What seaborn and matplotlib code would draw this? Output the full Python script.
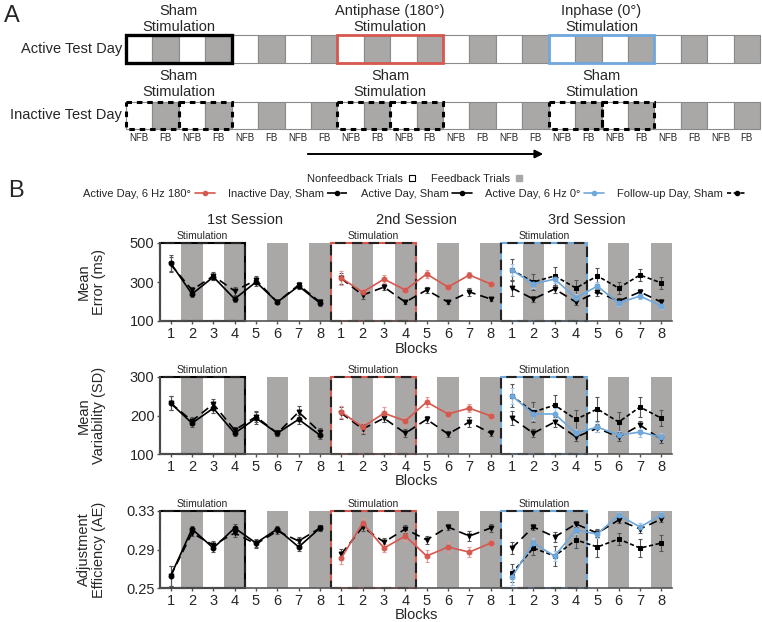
import seaborn as sns
import matplotlib.pyplot as plt
from matplotlib.patches import Rectangle
from matplotlib.lines import Line2D
from matplotlib.transforms import blended_transform_factory

# ---- data ----
blocks = [1, 2, 3, 4, 5, 6, 7, 8]
sessions = ["1st Session", "2nd Session", "3rd Session"]
trial_types = ["NFB", "FB"] * 12
stim_cells = [0, 8, 16]  # first cell of each stimulated group (panel A)
day_rows = ["Active Test Day", "Inactive Test Day"]
active_titles = ["Sham\nStimulation", "Antiphase (180°)\nStimulation", "Inphase (0°)\nStimulation"]
inactive_titles = ["Sham\nStimulation"] * 3

# mean error (ms)
err_inactive = [390, 259, 331, 254, 310, 197, 285, 197,
                318, 233, 274, 197, 259, 197, 249, 213,
                269, 213, 264, 197, 249, 202, 249, 197]
err_inactive_se = [40, 15, 20, 20, 20, 10, 15, 15,
                   30, 20, 15, 10, 15, 10, 20, 10,
                   40, 15, 20, 15, 20, 15, 15, 15]
err_active_sham = [397, 238, 326, 213, 300, 197, 279, 192]
err_active_sham_se = [40, 15, 15, 15, 20, 10, 15, 15]
err_180 = [320, 248, 315, 259, 341, 274, 336, 290]
err_180_se = [35, 15, 20, 15, 20, 15, 15, 15]
err_0 = [361, 290, 315, 218, 279, 192, 228, 177]
err_0_se = [30, 20, 20, 20, 20, 15, 15, 15]
err_followup = [361, 300, 331, 269, 331, 269, 336, 295]
err_followup_se = [55, 40, 45, 40, 40, 30, 30, 30]

# mean variability (SD)
var_inactive = [232, 186, 230, 162, 197, 154, 209, 157,
                206, 165, 193, 154, 190, 152, 183, 154,
                193, 154, 183, 144, 167, 144, 175, 138]
var_inactive_se = [18, 10, 12, 8, 15, 8, 15, 10,
                   15, 12, 10, 10, 10, 8, 12, 8,
                   18, 10, 12, 10, 10, 10, 12, 10]
var_active_sham = [232, 180, 219, 154, 193, 154, 190, 149]
var_active_sham_se = [18, 10, 12, 8, 15, 8, 12, 10]
var_180 = [209, 170, 206, 186, 235, 204, 219, 199]
var_180_se = [15, 12, 15, 10, 12, 10, 10, 8]
var_0 = [251, 204, 204, 154, 170, 149, 157, 144]
var_0_se = [20, 15, 15, 12, 12, 10, 12, 10]
var_followup = [251, 209, 227, 190, 217, 183, 222, 193]
var_followup_se = [30, 25, 25, 25, 30, 25, 25, 20]

# adjustment efficiency (AE)
ae_inactive = [0.2625, 0.3071, 0.2946, 0.3071, 0.2957, 0.3092, 0.2988, 0.3123,
               0.2853, 0.3134, 0.2977, 0.3113, 0.3000, 0.3134, 0.3040, 0.3123,
               0.2915, 0.3134, 0.3030, 0.3165, 0.3070, 0.3206, 0.3113, 0.3216]
ae_inactive_se = [0.010, 0.003, 0.004, 0.004, 0.004, 0.003, 0.004, 0.003,
                  0.005, 0.004, 0.004, 0.004, 0.004, 0.003, 0.005, 0.004,
                  0.006, 0.003, 0.005, 0.003, 0.004, 0.003, 0.004, 0.003]
ae_active_sham = [0.2625, 0.3113, 0.2915, 0.3123, 0.2967, 0.3113, 0.2926, 0.3123]
ae_active_sham_se = [0.010, 0.003, 0.004, 0.004, 0.004, 0.003, 0.004, 0.003]
ae_180 = [0.2811, 0.3175, 0.2915, 0.3040, 0.2832, 0.2926, 0.2873, 0.2967]
ae_180_se = [0.006, 0.005, 0.004, 0.005, 0.006, 0.005, 0.005, 0.003]
ae_0 = [0.2614, 0.2967, 0.2832, 0.3102, 0.3060, 0.3258, 0.3134, 0.3258]
ae_0_se = [0.008, 0.005, 0.005, 0.004, 0.004, 0.003, 0.004, 0.003]
ae_followup = [0.2656, 0.2915, 0.2832, 0.3000, 0.2926, 0.3009, 0.2915, 0.2967]
ae_followup_se = [0.009, 0.007, 0.010, 0.008, 0.010, 0.006, 0.009, 0.008]

# ---- style ----
RED = "#d6584e"
BLUE = "#6ea8dc"
GRAY = "#aaa7a7"
DASH = (0, (5, 3))
FINE = (0, (2.5, 1.5))

sns.set_theme(style="white")
plt.rcParams["font.family"] = ["Liberation Sans", "DejaVu Sans"]

fig = plt.figure(figsize=(7.62, 6.22), dpi=100)

# ---- panel A (pixel coordinates overlay) ----
over = fig.add_axes([0, 0, 1, 1], zorder=-1)
over.set_xlim(0, 762)
over.set_ylim(622, 0)
over.axis("off")

x0, cw = 126, (760 - 126) / 24
rows_y = [(35, 63), (102, 129)]
for (ytop, ybot), name in zip(rows_y, day_rows):
    for i, kind in enumerate(trial_types):
        over.add_patch(Rectangle((x0 + i * cw, ytop), cw, ybot - ytop,
                                 fc=GRAY if kind == "FB" else "white",
                                 ec="#8a8a8a", lw=0.8))
    over.text(x0 - 4, (ytop + ybot) / 2, name, ha="right", va="center", fontsize=10.5)

for c, col in zip(stim_cells, ["black", RED, BLUE]):
    ytop, ybot = rows_y[0]
    over.add_patch(Rectangle((x0 + c * cw, ytop), 4 * cw, ybot - ytop,
                             fill=False, ec=col, lw=2.4 if col == "black" else 2.0))
    ytop, ybot = rows_y[1]
    for k in (0, 2):
        over.add_patch(Rectangle((x0 + (c + k) * cw, ytop), 2 * cw, ybot - ytop,
                                 fill=False, ec="black", lw=2.2, ls=(0, (1.8, 1.6))))

for c, t1, t2 in zip(stim_cells, active_titles, inactive_titles):
    xc = x0 + (c + 2) * cw
    over.text(xc, 19, t1, ha="center", va="center", fontsize=10.5, linespacing=1.15)
    over.text(xc, 84, t2, ha="center", va="center", fontsize=10.5, linespacing=1.15)

for i, kind in enumerate(trial_types):
    over.text(x0 + (i + 0.5) * cw, 138, kind, ha="center", va="center", fontsize=7)

over.annotate("", xy=(546, 154), xytext=(305, 154),
              arrowprops=dict(arrowstyle="-|>", color="black", lw=1.4, mutation_scale=12))

over.text(4, 16, "A", fontsize=17, va="center", ha="left")
over.text(8, 191, "B", fontsize=17, va="center", ha="left")

# ---- legends ----
trial_handles = [
    Line2D([], [], ls="none", marker="s", ms=5, mfc="white", mec="black", mew=0.8),
    Line2D([], [], ls="none", marker="s", ms=5, mfc=GRAY, mec=GRAY),
]
fig.legend(trial_handles, ["Nonfeedback Trials", "Feedback Trials"],
           loc="center", bbox_to_anchor=(416 / 762, 1 - 179 / 622), ncol=2,
           frameon=False, fontsize=8, markerfirst=False, handlelength=1.0,
           handletextpad=0.3, columnspacing=1.2)

series_handles = [
    Line2D([], [], color=RED, lw=1.2, marker="o", ms=3),
    Line2D([], [], color="black", lw=1.2, ls=DASH, marker="o", ms=3),
    Line2D([], [], color="black", lw=1.2, marker="o", ms=3),
    Line2D([], [], color=BLUE, lw=1.2, marker="o", ms=3),
    Line2D([], [], color="black", lw=1.2, ls=FINE, marker="o", ms=3),
]
series_labels = ["Active Day, 6 Hz 180°", "Inactive Day, Sham", "Active Day, Sham",
                 "Active Day, 6 Hz 0°", "Follow-up Day, Sham"]
fig.legend(series_handles, series_labels, loc="center",
           bbox_to_anchor=(415 / 762, 1 - 194 / 622), ncol=5, frameon=False,
           fontsize=8, markerfirst=False, handlelength=1.8, handletextpad=0.3,
           columnspacing=1.2)


# ---- panel B ----
def draw_series(ax, values, se, session, color, ls, marker, ecolor):
    xs = [session * 8 + i for i in range(len(values))]
    ax.errorbar(xs, values, yerr=se, fmt="none", ecolor=ecolor, elinewidth=0.8,
                capsize=1.5, capthick=0.8, zorder=3)
    sns.lineplot(x=xs, y=values, ax=ax, color=color, linestyle=ls, lw=1.2,
                 marker=marker, markersize=3.5, markeredgecolor=color,
                 errorbar=None, zorder=4)


panels = [
    ("Mean\nError (ms)", (100, 500), [100, 300, 500], ["100", "300", "500"],
     (err_inactive, err_inactive_se), (err_active_sham, err_active_sham_se),
     (err_180, err_180_se), (err_0, err_0_se), (err_followup, err_followup_se),
     321, 78),
    ("Mean\nVariability (SD)", (100, 300), [100, 200, 300], ["100", "200", "300"],
     (var_inactive, var_inactive_se), (var_active_sham, var_active_sham_se),
     (var_180, var_180_se), (var_0, var_0_se), (var_followup, var_followup_se),
     454, 77),
    ("Adjustment\nEfficiency (AE)", (0.25, 0.33), [0.25, 0.29, 0.33], ["0.25", "0.29", "0.33"],
     (ae_inactive, ae_inactive_se), (ae_active_sham, ae_active_sham_se),
     (ae_180, ae_180_se), (ae_0, ae_0_se), (ae_followup, ae_followup_se),
     588, 77),
]

for p, (ylab, ylim, yt, ytl, inact, asham, a180, a0, fup, ybot, hpx) in enumerate(panels):
    ax = fig.add_axes([160 / 762, 1 - ybot / 622, 512 / 762, hpx / 622])
    ax.set_facecolor("none")
    trans = blended_transform_factory(ax.transData, ax.transAxes)

    for s in range(3):
        for b in range(1, 8, 2):
            ax.axvspan(s * 8 + b - 0.5, s * 8 + b + 0.5, color=GRAY, lw=0, zorder=0)

    # stimulation boxes
    for s, col in zip(range(3), ["black", RED, BLUE]):
        ax.add_patch(Rectangle((s * 8 - 0.5, 0), 4, 1, transform=trans, fill=False,
                               ec=col, lw=1.5, clip_on=False, zorder=2))
        ax.add_patch(Rectangle((s * 8 - 0.5, 0), 4, 1, transform=trans, fill=False,
                               ec="#222222", lw=1.5, ls=DASH, clip_on=False, zorder=2))
        ax.text(s * 8 + 1.5, 1.02, "Stimulation", transform=trans, ha="center",
                va="bottom", fontsize=7.5)

    vals, se = inact
    for s in range(3):
        draw_series(ax, vals[s * 8:(s + 1) * 8], se[s * 8:(s + 1) * 8], s,
                    "black", DASH, "v", "#555555")
    draw_series(ax, asham[0], asham[1], 0, "black", "-", "o", "#555555")
    draw_series(ax, a180[0], a180[1], 1, RED, "-", "o", "#e59a93")
    draw_series(ax, fup[0], fup[1], 2, "black", FINE, "s", "#555555")
    draw_series(ax, a0[0], a0[1], 2, BLUE, "-", "o", "#a5c8ea")

    ax.set_xlim(-0.5, 23.5)
    ax.set_ylim(*ylim)
    ax.set_yticks(yt)
    ax.set_yticklabels(ytl, fontsize=10.5)
    ax.set_xticks(range(24))
    ax.set_xticklabels([str(b) for b in blocks] * 3, fontsize=10.5)
    ax.tick_params(axis="both", direction="out", length=2.5, width=1, color="#555555",
                   pad=1.5, bottom=True, left=True)
    sns.despine(ax=ax)
    for side in ("left", "bottom"):
        ax.spines[side].set_color("#555555")
        ax.spines[side].set_linewidth(1.2)

    ax.set_ylabel(ylab, fontsize=10.5, linespacing=1.1)
    ax.yaxis.set_label_coords(-0.105, 0.5)
    ax.set_xlabel("Blocks", fontsize=10.5)
    ax.xaxis.set_label_coords(0.5, -0.265)

    if p == 0:
        for s, name in enumerate(sessions):
            ax.text(s * 8 + 3.5, 1.29, name, transform=trans, ha="center",
                    va="center", fontsize=10.5)

fig.savefig("out.png", dpi=100)
